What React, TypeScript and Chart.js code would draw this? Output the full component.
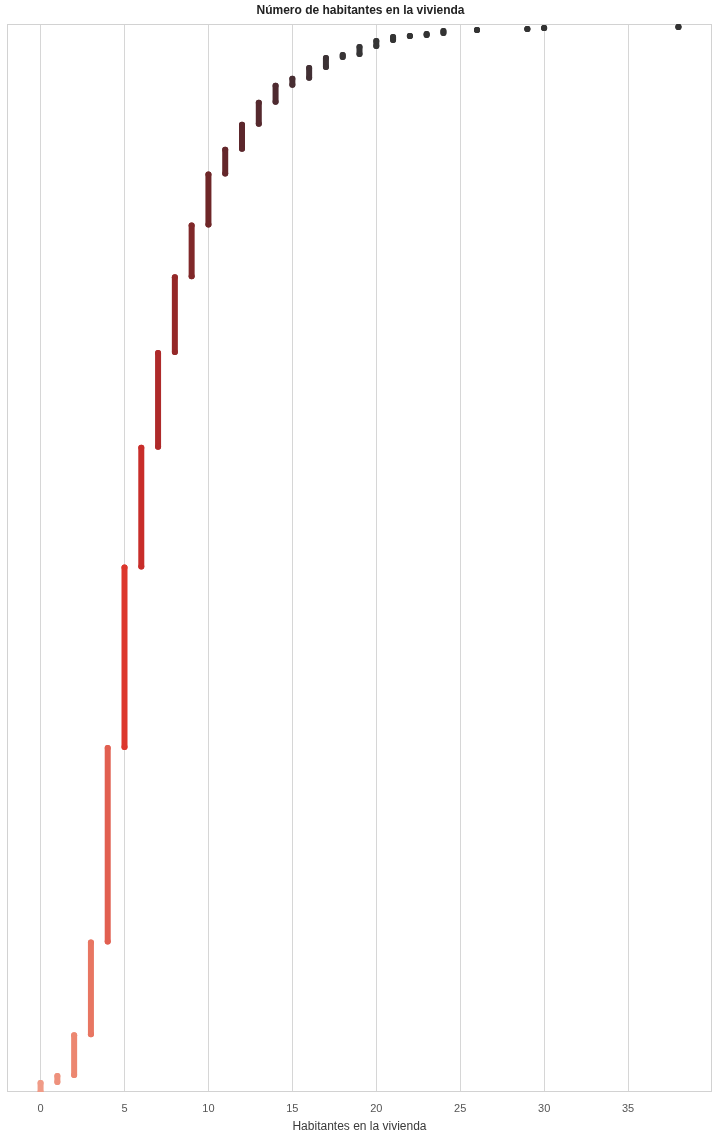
import { useEffect, useRef } from "react";
import { Chart, registerables } from "chart.js";

Chart.register(...registerables);

// Number of inhabitants per dwelling (category value)
const values = [0, 1, 2, 3, 4, 5, 6, 7, 8, 9, 10, 11, 12, 13, 14, 15, 16, 17, 18, 19, 20, 21, 22, 23, 24, 26, 29, 30, 38];
// Number of observations (dwellings) with that value, estimated from the sorted strip
const counts = [10, 7, 41, 93, 195, 181, 120, 95, 76, 52, 51, 25, 25, 22, 17, 7, 11, 10, 3, 8, 6, 4, 1, 2, 3, 1, 1, 1, 1];
const colors = [
  "#f09b87", "#ee917d", "#ec8770", "#e87662", "#e15f50", "#dc372d", "#c82d2a", "#ae2a2a",
  "#942828", "#802829", "#6e2628", "#64272b", "#5c272c", "#55292e", "#4e2a30", "#482d32",
  "#423034", "#3c3235", "#383436", "#363536", "#353535", "#343434", "#343434", "#333333",
  "#333333", "#333333", "#333333", "#333333", "#333333",
];
const xTicks = [0, 5, 10, 15, 20, 25, 30, 35];
const xMin = -2;
const xMax = 40;
const yMax = 1071;

const titleText = "Número de habitantes en la vivienda";
const xTitle = "Habitantes en la vivienda";

const framePlugin = {
  id: "frame",
  beforeDatasetsDraw(chart: any) {
    const { ctx, chartArea } = chart;
    ctx.save();
    ctx.strokeStyle = "#d2d2d2";
    ctx.lineWidth = 1;
    ctx.strokeRect(chartArea.left + 0.5, chartArea.top + 0.5, chartArea.right - chartArea.left - 1, chartArea.bottom - chartArea.top - 1);
    ctx.restore();
  },
};

export default function App() {
  const ref = useRef<HTMLCanvasElement | null>(null);

  useEffect(() => {
    if (!ref.current) return;
    Chart.defaults.font.family = "'Liberation Sans', Arial, sans-serif";

    let cum = 0;
    const datasets = values.map((v, i) => {
      const start = cum;
      const end = cum + counts[i] - 1;
      cum += counts[i];
      return {
        data: [
          { x: v, y: start },
          { x: v, y: end },
        ],
        showLine: true,
        borderColor: colors[i],
        backgroundColor: colors[i],
        pointBackgroundColor: colors[i],
        pointBorderWidth: 0,
        pointRadius: 3,
        pointHoverRadius: 3,
        borderWidth: 6,
        borderCapStyle: "round" as const,
      };
    });

    const chart = new Chart(ref.current, {
      type: "scatter",
      data: { datasets },
      plugins: [framePlugin],
      options: {
        animation: false,
        responsive: true,
        maintainAspectRatio: false,
        layout: { padding: { left: 7, right: 1, top: 0, bottom: 0 } },
        plugins: {
          legend: { display: false },
          tooltip: { enabled: false },
          title: {
            display: true,
            text: titleText,
            color: "#222222",
            font: { size: 12, weight: "bold" },
            padding: { top: 3, bottom: 6.6 },
          },
        },
        scales: {
          x: {
            type: "linear",
            min: xMin,
            max: xMax,
            afterBuildTicks: (scale: any) => {
              scale.ticks = xTicks.map((v) => ({ value: v }));
            },
            afterFit: (scale: any) => {
              scale.height = 45;
            },
            grid: { color: "#d6d6d6", lineWidth: 1, drawTicks: false },
            border: { display: false },
            ticks: { color: "#555555", font: { size: 11 }, padding: 10 },
            title: {
              display: true,
              text: xTitle,
              color: "#3a3a3a",
              font: { size: 12 },
              padding: { top: 0, bottom: 3 },
            },
          },
          y: {
            type: "linear",
            min: 0,
            max: yMax,
            display: false,
          },
        },
      },
    });
    return () => chart.destroy();
  }, []);

  return (
    <div style={{ position: "fixed", left: 0, top: 0, width: 715, height: 1137, background: "#ffffff" }}>
      <canvas ref={ref} />
    </div>
  );
}
